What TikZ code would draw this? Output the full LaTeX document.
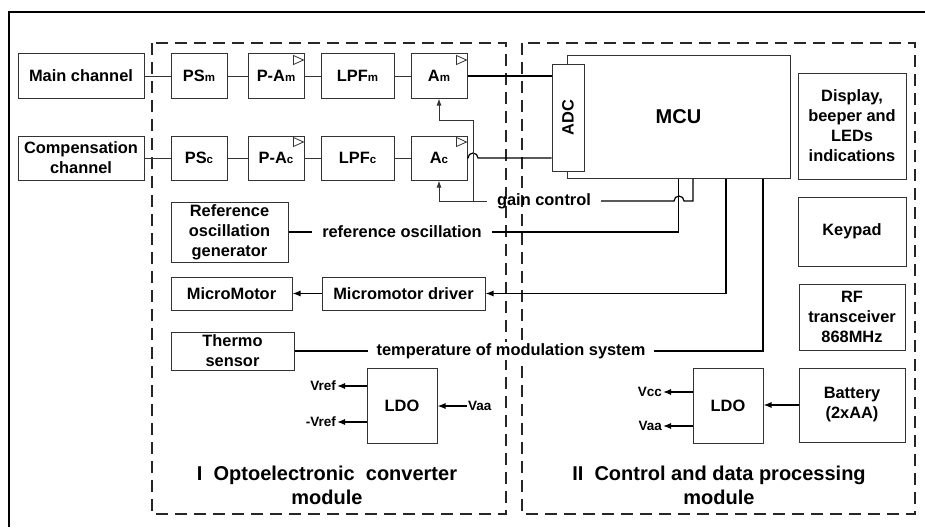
\documentclass[tikz,border=0pt]{standalone}
\usepackage{fontspec}
\setmainfont{Liberation Sans}
\usetikzlibrary{arrows.meta,positioning,calc}
\newcommand\boxfont{\fontsize{16.4}{20}\selectfont\bfseries}
\newcommand\lblfont{\fontsize{13.5}{15}\selectfont\bfseries}
\newcommand\chsub[1]{{\fontsize{11.5}{12}\selectfont #1}}

\begin{document}
\begin{tikzpicture}[x=1pt,y=-1pt,
   blk/.style={draw=black!80,line width=1pt,fill=white,inner sep=0pt,align=center,font=\boxfont},
   amp/.style={blk,minimum width=56pt,minimum height=44pt},
   sig/.style={font=\boxfont,inner xsep=10pt,inner ysep=1pt},
   pwr/.style={font=\lblfont,inner sep=1pt},
   wire/.style={line width=1pt,draw=black!80},
   bus/.style={line width=1.2pt},
   arr/.style={bus,-{Latex[length=8pt,width=6pt]}},
   modbox/.style={draw=black!85,line width=1.1pt,dash pattern=on 12pt off 7pt}]
  \useasboundingbox (0,0) rectangle (925,527);
  \draw[line width=1.3pt] (9,527) -- (9,12) -- (925,12);
  \draw[modbox] (152,43) rectangle (506,514);
  \draw[modbox] (522,43) rectangle (915,514);

  \node[blk,minimum width=126pt,minimum height=44pt] (mainch) at (81,76) {Main channel};
  \node[blk,minimum width=126pt,minimum height=44pt] (compch) at (81,158) {Compensation\\channel};

  \node[amp] (psm) at (199,76) {PS\chsub{m}};
  \node[amp,right=20pt of psm] (pam) {P-A\chsub{m}};
  \node[amp,minimum width=73pt,right=16pt of pam] (lpfm) {LPF\chsub{m}};
  \node[amp,right=16pt of lpfm] (am) {A\chsub{m}};

  \node[amp] (psc) at (199,158) {PS\chsub{c}};
  \node[amp,right=20pt of psc] (pac) {P-A\chsub{c}};
  \node[amp,minimum width=73pt,right=16pt of pac] (lpfc) {LPF\chsub{c}};
  \node[amp,right=16pt of lpfc] (ac) {A\chsub{c}};

  \foreach \n in {pam,pac,am,ac}
    \draw[line width=0.8pt,draw=black!80,fill=white] ($(\n.north east)+(-11,2)$) -- ++(0,9) -- ++(10,-4.5) -- cycle;

  \node[blk,minimum width=223pt,minimum height=122pt,font=\fontsize{20}{24}\selectfont\bfseries] (mcu) at (678.5,117) {MCU};
  \node[blk,minimum width=32pt,minimum height=107pt] (adc) at (568,117.5) {};
  \node[font=\boxfont,rotate=90] (adct) at (adc.center) {ADC};

  \node[blk,minimum width=108pt,minimum height=106pt] (disp) at (852,126) {Display,\\beeper and\\LEDs\\indications};
  \node[blk,minimum width=108pt,minimum height=69pt] (keypad) at (852,231.5) {Keypad};
  \node[blk,minimum width=106pt,minimum height=66pt] (rf) at (852,317) {RF\\transceiver\\868MHz};
  \node[blk,minimum width=106pt,minimum height=74pt] (batt) at (852,405) {Battery\\(2xAA)};
  \node[blk,minimum width=70pt,minimum height=75pt] (ldoii) at (728,405.5) {LDO};

  \node[blk,minimum width=117pt,minimum height=60pt] (refgen) at (229.5,232) {Reference\\oscillation\\generator};
  \node[blk,minimum width=121pt,minimum height=33pt] (mmotor) at (231.5,293.5) {MicroMotor};
  \node[blk,minimum width=163pt,minimum height=33pt] (mdriver) at (403.5,293.5) {Micromotor driver};
  \node[blk,minimum width=123pt,minimum height=38pt] (thermo) at (232.5,351) {Thermo\\sensor};
  \node[blk,minimum width=70pt,minimum height=75pt] (ldoi) at (402,405.5) {LDO};

  \draw[wire] (mainch) -- (psm);
  \draw[wire] (psm) -- (pam);
  \draw[wire] (pam) -- (lpfm);
  \draw[wire] (lpfm) -- (am);
  \draw[wire] (compch) -- (psc);
  \draw[wire] (psc) -- (pac);
  \draw[wire] (pac) -- (lpfc);
  \draw[wire] (lpfc) -- (ac);
  \draw[bus] (am.east) -- (adc.west |- am.east);
  \draw[bus] (ac.east) -- (468,158) arc[start angle=180,end angle=0,radius=5pt] -- (adc.west |- ac.east);

  \node[sig] (gainl) at (544,201) {gain control};
  \draw[bus] (mcu.south -| 693,0) -- (693,201) -- (684,201)
     arc[start angle=0,end angle=180,radius=5pt] -- (gainl.east);
  \draw[wire,-{Latex[length=7pt,width=5pt]}] (gainl.west) -- (ac.south |- gainl.west) -- (ac.south);
  \coordinate (gbr) at (473,201);
  \draw[wire,-{Latex[length=7pt,width=5pt]}] (gbr) -- (473,120) -- (am.south |- 0,120) -- (am.south);

  \node[sig] (refl) at (402,232) {reference oscillation};
  \draw[bus] (refgen.east) -- (refl.west);
  \draw[bus] (refl.east) -| (mcu.south);

  \draw[arr] (mcu.south -| 726,0) |- (mdriver.east);
  \draw[arr] (mdriver.west) -- (mmotor.east);

  \node[sig,fill=white,inner xsep=8pt] (templ) at (511,351) {temperature of modulation system};
  \draw[bus] (thermo.east) -- (templ.west);
  \draw[bus] (templ.east) -| (mcu.south -| 763,0);

  \node[pwr,anchor=east] (vref) at (337,386) {Vref};
  \node[pwr,anchor=east] (nvref) at (337,422) {-Vref};
  \node[pwr,anchor=west] (vaai) at (467,406) {Vaa};
  \draw[arr] (ldoi.west |- vref) -- (vref.east);
  \draw[arr] (ldoi.west |- nvref) -- (nvref.east);
  \draw[arr] (vaai.west) -- (ldoi.east |- vaai);

  \node[pwr,anchor=east] (vcc) at (663,392) {Vcc};
  \node[pwr,anchor=east] (vaao) at (663,426) {Vaa};
  \draw[arr] (ldoii.west |- vcc) -- (vcc.east);
  \draw[arr] (ldoii.west |- vaao) -- (vaao.east);
  \draw[arr] (batt.west) -- (ldoii.east |- batt.west);

  \node[font=\fontsize{20}{24}\selectfont\bfseries,align=center] (modi) at (327,485) {I\ \ Optoelectronic\ \ converter\\module};
  \node[font=\fontsize{20}{24}\selectfont\bfseries,align=center] (modii) at (719,485) {II\ \ Control and data processing\\module};
\end{tikzpicture}
\end{document}
